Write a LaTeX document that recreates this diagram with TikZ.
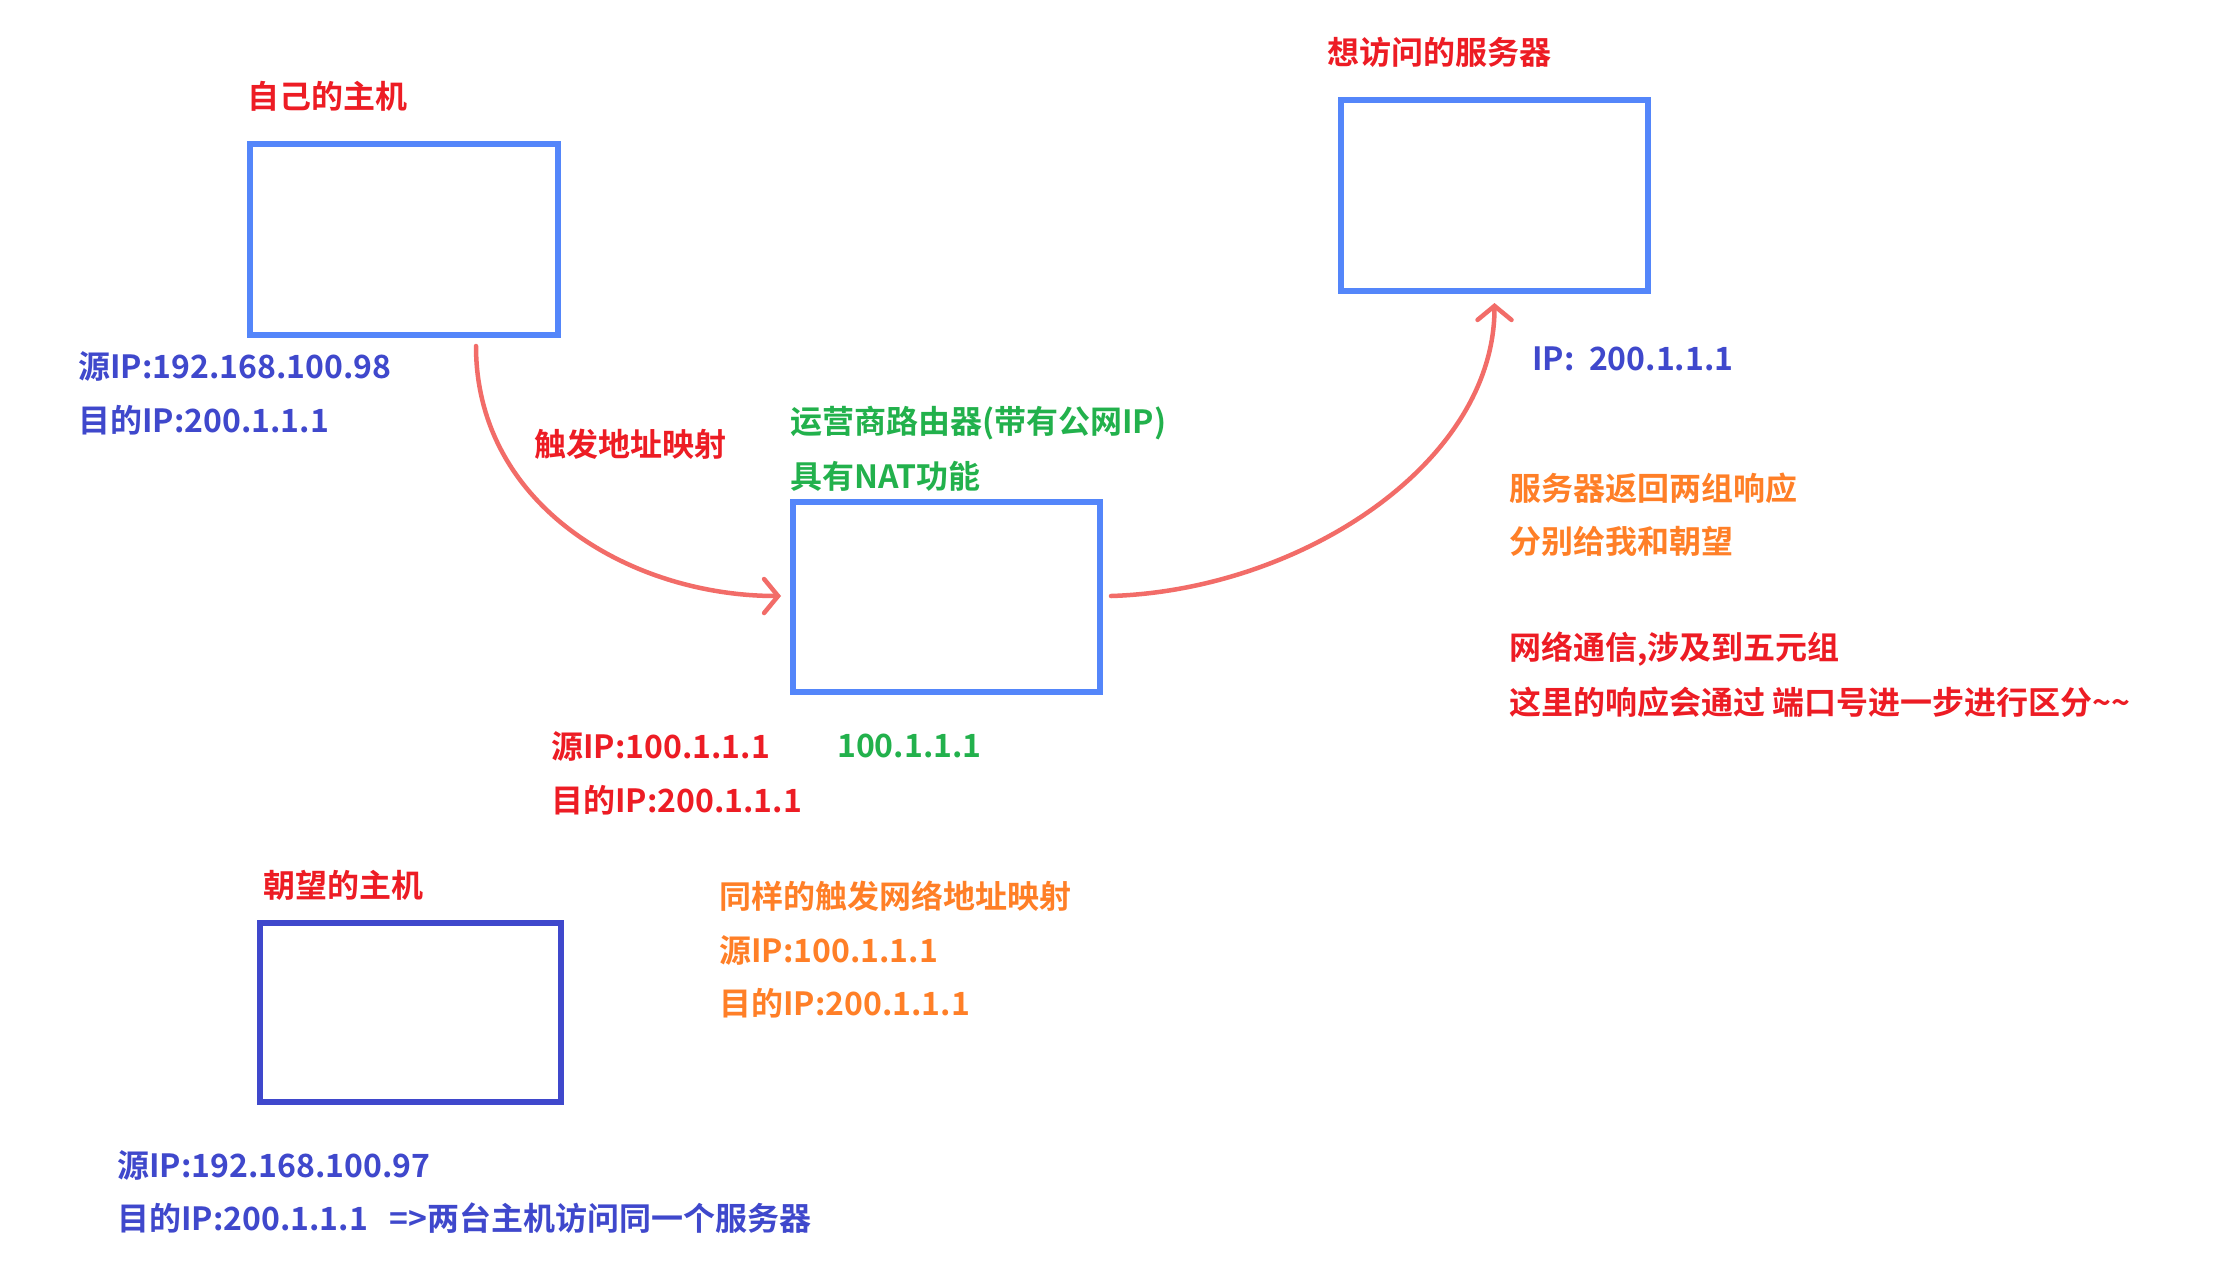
\documentclass[tikz,border=0pt]{standalone}
\usepackage{fontspec}
\setmainfont{Noto Sans CJK SC}[BoldFont={* Bold}]
\usetikzlibrary{arrows.meta}
\definecolor{boxblue}{RGB}{84,134,250}
\definecolor{darkblue}{RGB}{63,72,204}
\definecolor{txtred}{RGB}{237,28,36}
\definecolor{txtgreen}{RGB}{34,177,76}
\definecolor{txtorange}{RGB}{255,127,39}
\definecolor{arrowred}{RGB}{242,108,104}
\begin{document}
\begin{tikzpicture}[x=1pt,y=-1pt,
  hostbox/.style={draw=boxblue,line width=6pt,inner sep=0pt,minimum width=#1},
  lbl/.style={anchor=west,inner sep=0pt,font=\fontsize{32}{38}\selectfont\bfseries},
  conn/.style={draw=arrowred,line width=4.5pt,line cap=round,
    -{Straight Barb[length=14pt,width=34pt,line cap=round]}}]
\path[use as bounding box,fill=white] (0,0) rectangle (2216,1275);
% boxes
\node[hostbox=308pt,minimum height=191pt] (host) at (404,239.5) {};
\node[hostbox=307pt,minimum height=190pt] (router) at (946.5,597) {};
\node[hostbox=307pt,minimum height=191pt] (server) at (1494.5,195.5) {};
\node[hostbox=301pt,minimum height=179pt,draw=darkblue] (peer) at (410.5,1012.5) {};
% labels
\node[lbl,txtred] (t1) at (247,96) {自己的主机};
\node[lbl,darkblue] (t2) at (78,366) {源IP:192.168.100.98};
\node[lbl,darkblue] (t3) at (78,420) {目的IP:200.1.1.1};
\node[lbl,txtred] (t4) at (534,444) {触发地址映射};
\node[lbl,txtgreen] (t5) at (790,423) {运营商路由器(带有公网IP)};
\node[lbl,txtgreen] (t6) at (790,476) {具有NAT功能};
\node[lbl,txtred] (t7) at (551,746) {源IP:100.1.1.1};
\node[lbl,txtgreen] (t8) at (837,746) {100.1.1.1};
\node[lbl,txtred] (t9) at (551,800) {目的IP:200.1.1.1};
\node[lbl,txtred] (t10) at (1327,52) {想访问的服务器};
\node[lbl,darkblue] (t11) at (1532,359) {IP:\ \ 200.1.1.1};
\node[lbl,txtorange] (t12) at (1509,488) {服务器返回两组响应};
\node[lbl,txtorange] (t13) at (1509,541) {分别给我和朝望};
\node[lbl,txtred] (t14) at (1509,649) {网络通信,涉及到五元组};
\node[lbl,txtred] (t15) at (1509,702) {这里的响应会通过\ 端口号进一步进行区分\textasciitilde\textasciitilde};
\node[lbl,txtred] (t16) at (263,885) {朝望的主机};
\node[lbl,txtorange] (t17) at (719,896) {同样的触发网络地址映射};
\node[lbl,txtorange] (t18) at (719,950) {源IP:100.1.1.1};
\node[lbl,txtorange] (t19) at (719,1003) {目的IP:200.1.1.1};
\node[lbl,darkblue] (t20) at (117,1165) {源IP:192.168.100.97};
\node[lbl,darkblue] (t21) at (117,1218) {目的IP:200.1.1.1\ \ \ =>两台主机访问同一个服务器};
% connectors
\draw[conn] ([xshift=72pt,yshift=-8pt]host.south) .. controls +(0,160) and +(-150,0) .. ([xshift=-9pt,yshift=1pt]router.west);
\draw[conn] ([xshift=8pt,yshift=1pt]router.east) .. controls +(190,-6) and +(0,160) .. ([yshift=-9pt]server.south);
\end{tikzpicture}
\end{document}
